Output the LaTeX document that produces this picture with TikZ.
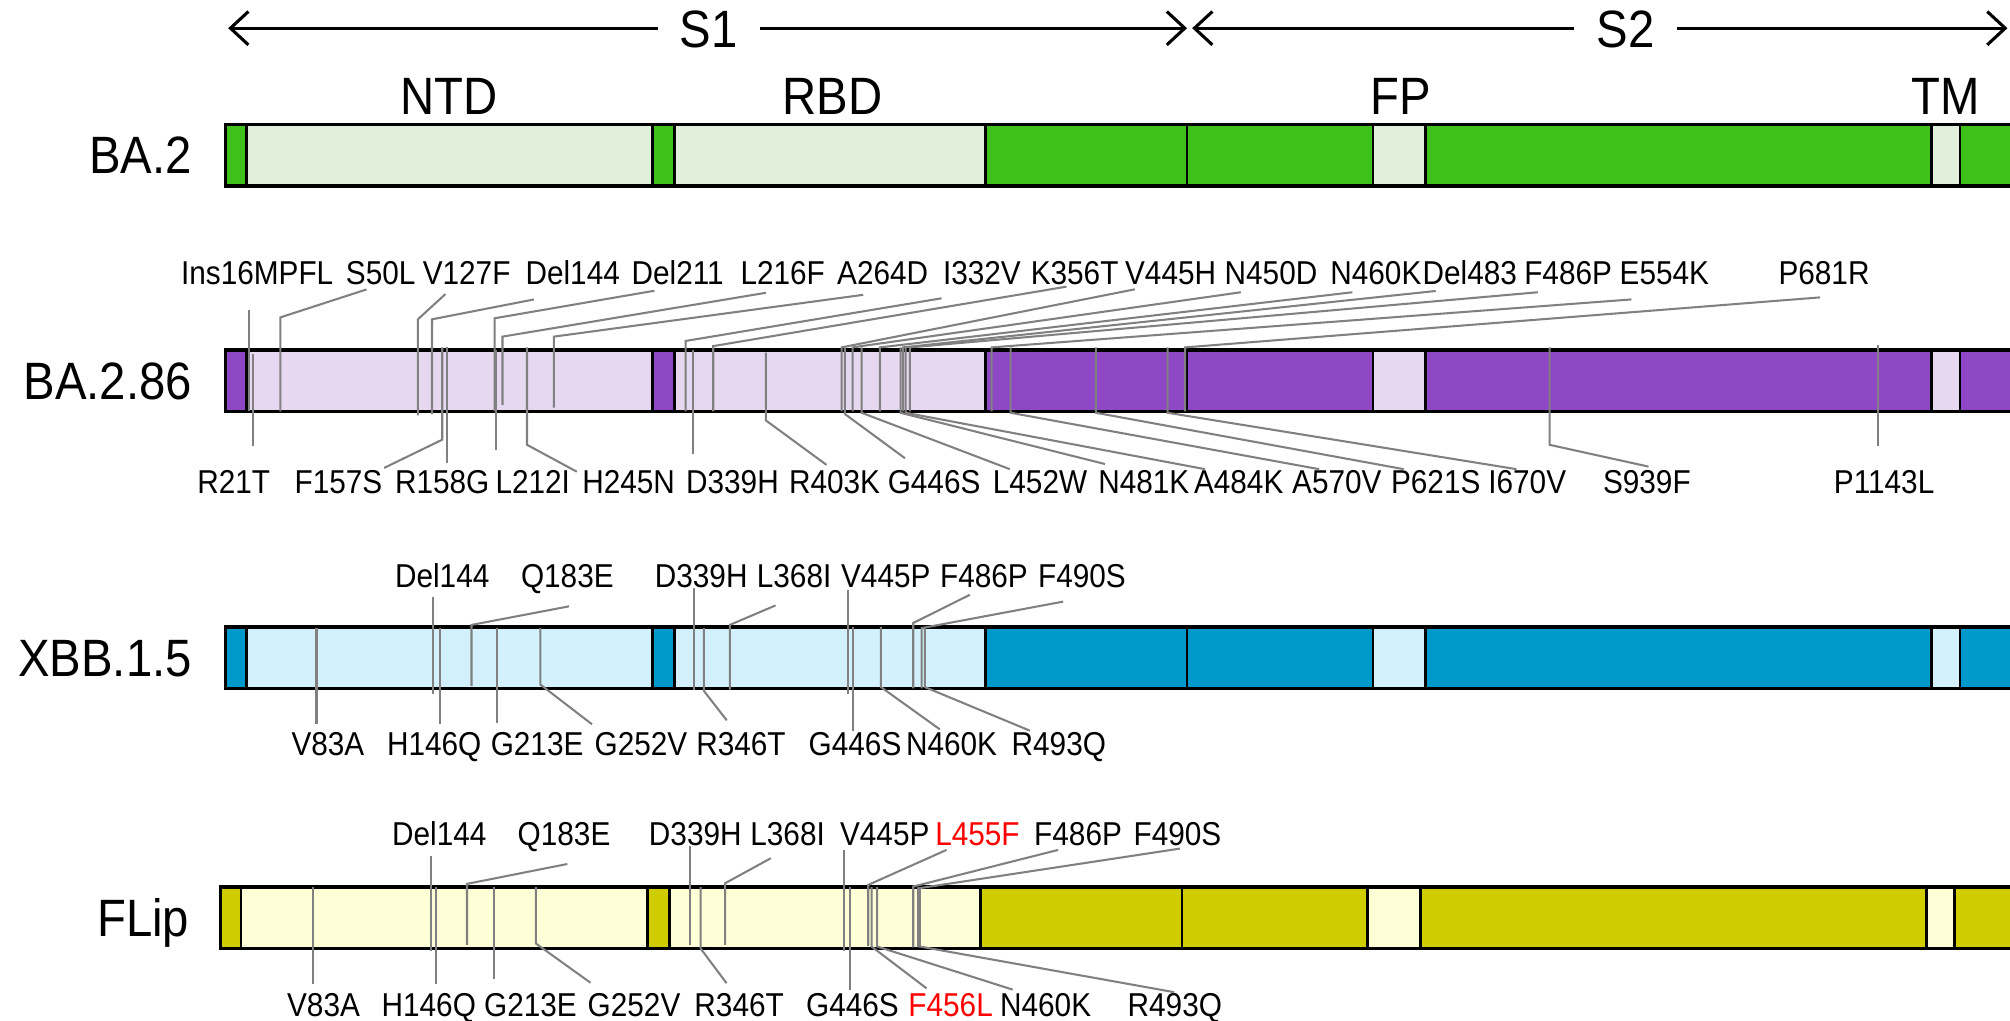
\documentclass[tikz,border=0pt]{standalone}
\usepackage{fontspec}
\setmainfont{Liberation Sans}
\newfontfamily\labfont[FakeStretch=0.9]{Liberation Sans}
\usetikzlibrary{arrows.meta,calc}
\definecolor{mutgray}{HTML}{808080}
\definecolor{gD}{HTML}{3EC11B}\definecolor{gL}{HTML}{E2EFDA}
\definecolor{pD}{HTML}{8E48C6}\definecolor{pL}{HTML}{E6D8F0}
\definecolor{bD}{HTML}{0099CC}\definecolor{bL}{HTML}{D3F1FC}
\definecolor{yD}{HTML}{CFCC00}\definecolor{yL}{HTML}{FFFFD7}
\newcommand\DrawBar[4]{%
  \fill[#3] ({176+(#2)},#1) rectangle (1580,{#1+48});
  \foreach \aa/\bb in {192/509,526/769,1071/1112,1507/1529}
    {\fill[#4] ({\aa+(#2)},#1) rectangle ({\bb+(#2)},{#1+48});}
  \foreach \ss in {192,509,526,769,926,1071,1112,1507,1529}
    {\draw[sep] ({\ss+(#2)},#1) -- ({\ss+(#2)},{#1+48});}
  \draw[border] (1580,#1) -- ({176+(#2)},#1) -- ({176+(#2)},{#1+48}) -- (1580,{#1+48});
}
% name, text, label x, label y, start x, start y, kink x, kink y, end y
\newcommand\TopMut[9]{%
  \node[lab] (#1) at (#3,#4) {#2};
  \coordinate (#1-s) at (#5,#6);
  \coordinate (#1-k) at (#7,#8);
  \coordinate (#1-e) at (#7,#9);
  \draw[mut] (#1-s) -- (#1-k) -- (#1-e);
}
% name, text, label x, label y, x, top y, kink y, end x, end y
\newcommand\BotMut[9]{%
  \node[lab] (#1) at (#3,#4) {#2};
  \coordinate (#1-t) at (#5,#6);
  \coordinate (#1-k) at (#5,#7);
  \coordinate (#1-e) at (#8,#9);
  \draw[mut] (#1-t) -- (#1-k) -- (#1-e);
}
\begin{document}
\begin{tikzpicture}[x=0.5pt,y=-0.5pt,
  lab/.style={font=\labfont\fontsize{12.9}{14}\selectfont, inner sep=0pt, text height=9.2pt, text depth=0pt},
  biglab/.style={font=\labfont\fontsize{20.5}{24}\selectfont, inner sep=0pt, text height=14.7pt, text depth=0pt},
  mut/.style={draw=mutgray, line width=0.8pt},
  sep/.style={draw=black, line width=1.1pt},
  border/.style={draw=black, line width=1.4pt},
  span/.style={draw=black, line width=1.2pt, -{Straight Barb[length=7pt,width=13pt]}}
]
\useasboundingbox (0,0) rectangle (1568,796);
\fill[white] (0,0) rectangle (1568,796);

% ---- S1 / S2 spans
\node[biglab, inner xsep=8.5pt] (S1) at (553,22) {S1};
\coordinate (S1l) at (178,22);
\coordinate (S1r) at (926,22);
\draw[span] (S1.west) -- (S1l);
\draw[span] (S1.east) -- (S1r);
\node[biglab, inner xsep=8.5pt] (S2) at (1268,22) {S2};
\coordinate (S2l) at (930,22);
\coordinate (S2r) at (1566,22);
\draw[span] (S2.west) -- (S2l);
\draw[span] (S2.east) -- (S2r);

% ---- domain labels
\node[biglab] (NTD) at (350,75) {NTD};
\node[biglab] (RBD) at (649.6,75) {RBD};
\node[biglab] (FP) at (1093,75) {FP};
\node[biglab] (TM) at (1518,75) {TM};

% ---- bars
\DrawBar{97}{0}{gD}{gL}
\DrawBar{273}{0}{pD}{pL}
\DrawBar{489}{0}{bD}{bL}
\DrawBar{692}{-4}{yD}{yL}

% ---- row labels
\node[biglab, anchor=east] (rBA2) at (150,121) {BA.2};
\node[biglab, anchor=east] (rBA286) at (150,297) {BA.2.86};
\node[biglab, anchor=east] (rXBB) at (150,513) {XBB.1.5};
\node[biglab, anchor=east] (rFLip) at (148,716) {FLip};

% ---- BA.2.86 top
\TopMut{bIns}{Ins16MPFL}{200.6}{213}{194.3}{242}{194.3}{242}{321}
\TopMut{bS50L}{S50L}{297}{213}{285.9}{225.8}{218.7}{247.6}{321}
\TopMut{bV127F}{V127F}{364}{213}{347.5}{229.4}{326}{249.1}{324}
\TopMut{bD144}{Del144}{446.8}{213}{416.5}{233.6}{337}{249.1}{323}
\TopMut{bD211}{Del211}{528.7}{213}{510.5}{226.8}{385.8}{248.3}{321}
\TopMut{bL216F}{L216F}{610.6}{213}{597.5}{228.4}{392}{262.6}{316}
\TopMut{bA264D}{A264D}{688.6}{213}{673.4}{230}{432.1}{262.6}{318}
\TopMut{bI332V}{I332V}{766}{213}{734.5}{232.7}{534.8}{266}{321}
\TopMut{bK356T}{K356T}{838.3}{213}{832}{223.6}{556.4}{270}{321}
\TopMut{bV445H}{V445H}{913.2}{213}{885.3}{225.7}{656.5}{271}{321}
\TopMut{bN450D}{N450D}{991.5}{213}{968}{228}{665.1}{271}{321}
\TopMut{bN460K}{N460K}{1073.3}{213}{1055}{228}{686.4}{271}{321}
\TopMut{bD483}{Del483}{1146.6}{213}{1120}{227}{704.5}{271}{321}
\TopMut{bF486P}{F486P}{1223.3}{213}{1199.7}{228}{709.8}{271}{321}
\TopMut{bE554K}{E554K}{1298.4}{213}{1272.6}{233.6}{773.5}{271}{321}
\TopMut{bP681R}{P681R}{1422.9}{213}{1419.8}{232}{924.5}{271}{321}
% ---- BA.2.86 bottom
\BotMut{bR21T}{R21T}{182.3}{376}{197.7}{276}{348}{197.7}{348}
\BotMut{bF157S}{F157S}{264}{376}{345}{271}{343}{299.7}{365}
\BotMut{bR158G}{R158G}{345}{376}{348.4}{271}{361}{348.4}{361}
\BotMut{bL212I}{L212I}{415.6}{376}{386.7}{273}{351}{386.7}{351}
\BotMut{bH245N}{H245N}{490.4}{376}{411.1}{271}{347}{450}{368}
\BotMut{bD339H}{D339H}{571.4}{376}{540.8}{273}{354}{540.8}{354}
\BotMut{bR403K}{R403K}{651}{376}{597.5}{275}{328}{644.8}{362.7}
\BotMut{bG446S}{G446S}{728.7}{376}{659.1}{271}{323}{706}{357.5}
\BotMut{bL452W}{L452W}{811.3}{376}{672.1}{271}{322}{787.8}{366}
\BotMut{bN481K}{N481K}{892.3}{376}{702.5}{271}{322}{862}{362}
\BotMut{bA484K}{A484K}{966.3}{376}{706.5}{271}{322}{940}{366}
\BotMut{bA570V}{A570V}{1042.9}{376}{788.3}{271}{322}{1029}{366}
\BotMut{bP621S}{P621S}{1120}{376}{854.9}{271}{322}{1095}{366}
\BotMut{bI670V}{I670V}{1191.4}{376}{910.8}{271}{322}{1183}{366}
\BotMut{bS939F}{S939F}{1284.7}{376}{1208.8}{271}{347}{1286}{364}
\BotMut{bP1143L}{P1143L}{1469.8}{376}{1465.3}{269}{348}{1465.3}{348}

% ---- XBB.1.5 top
\TopMut{xD144}{Del144}{345}{449}{337.8}{465.5}{337.8}{465.5}{541}
\TopMut{xQ183E}{Q183E}{442.6}{449}{443.9}{473}{367.8}{487.5}{535}
\TopMut{xD339H}{D339H}{547}{449}{541.5}{459}{541.5}{459}{538}
\TopMut{xL368I}{L368I}{619.5}{449}{605}{472.3}{569.3}{487.5}{538}
\TopMut{xV445P}{V445P}{691}{449}{661.2}{460}{661.2}{460}{541}
\TopMut{xF486P}{F486P}{767.6}{449}{756.6}{464}{712.4}{486}{537}
\TopMut{xF490S}{F490S}{844}{449}{829.4}{469.3}{718.9}{490}{537}
% ---- XBB.1.5 bottom
\BotMut{xV83A}{V83A}{255.8}{580}{246.9}{490}{565}{246.9}{565}
\BotMut{xH146Q}{H146Q}{338.7}{580}{343.1}{490}{565}{343.1}{565}
\BotMut{xG213E}{G213E}{419}{580}{387.9}{490}{564}{387.9}{564}
\BotMut{xG252V}{G252V}{500}{580}{421.5}{490}{534}{461.8}{565}
\BotMut{xR346T}{R346T}{578}{580}{549.1}{490}{539}{567}{562}
\BotMut{xG446S}{G446S}{667}{580}{665.1}{489}{570}{665.1}{570}
\BotMut{xN460K}{N460K}{742.3}{580}{687.2}{489}{536}{733.2}{569}
\BotMut{xR493Q}{R493Q}{826}{580}{721.5}{490}{536}{803.4}{570}

% ---- FLip top
\TopMut{fD144}{Del144}{342.7}{650}{335.9}{667.8}{335.9}{667.8}{742}
\TopMut{fQ183E}{Q183E}{440}{650}{442.6}{674}{364.3}{689.5}{737}
\TopMut{fD339H}{D339H}{542.4}{650}{538.3}{660}{538.3}{660}{737}
\TopMut{fL368I}{L368I}{614.4}{650}{601.3}{669.5}{565.7}{689}{737}
\TopMut{fV445P}{V445P}{690.2}{650}{658.6}{663}{658.6}{663}{742}
\TopMut{fL455F}{\textcolor{red}{L455F}}{762.5}{650}{738.4}{663}{677.3}{690.3}{738}
\TopMut{fF486P}{F486P}{841}{650}{825.5}{663}{712.4}{691.6}{739}
\TopMut{fF490S}{F490S}{918.5}{650}{920.4}{662}{716.3}{693}{739}
% ---- FLip bottom
\BotMut{fV83A}{V83A}{252.4}{784}{244}{692}{768}{244}{768}
\BotMut{fH146Q}{H146Q}{334.5}{784}{340.3}{692}{768}{340.3}{768}
\BotMut{fG213E}{G213E}{413.8}{784}{385.1}{692}{764}{385.1}{764}
\BotMut{fG252V}{G252V}{494.6}{784}{418}{692}{736}{460.6}{766.6}
\BotMut{fR346T}{R346T}{576.6}{784}{546.6}{692}{740}{566.8}{767}
\BotMut{fG446S}{G446S}{665}{784}{663}{692}{772}{663}{772}
\BotMut{fF456L}{\textcolor{red}{F456L}}{741.6}{784}{679.9}{692}{738.4}{722.8}{771}
\BotMut{fN460K}{N460K}{815.7}{784}{684.3}{692}{738.4}{790}{772}
\BotMut{fR493Q}{R493Q}{916.5}{784}{717.6}{693}{738.4}{916}{774}
\end{tikzpicture}
\end{document}
